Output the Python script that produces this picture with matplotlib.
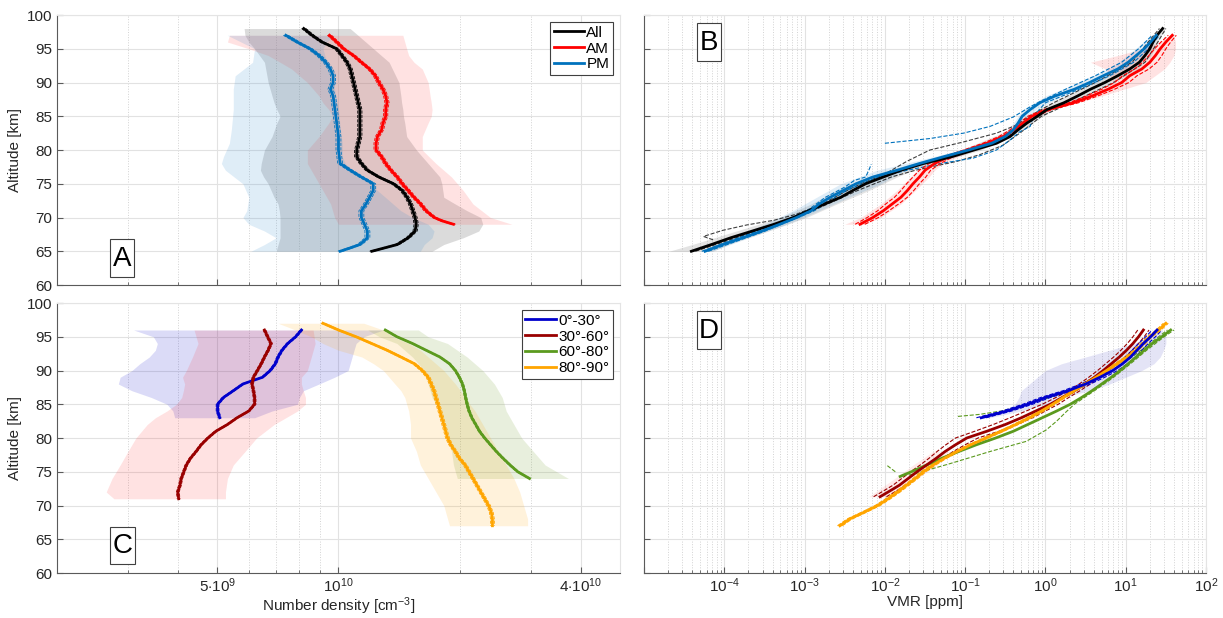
import numpy as np
import matplotlib
matplotlib.use('Agg')
import matplotlib.pyplot as plt
from matplotlib.patches import Rectangle
from matplotlib.ticker import FixedLocator, NullFormatter, LogLocator, NullLocator

plt.rcParams['font.family'] = ['Liberation Sans', 'DejaVu Sans']
plt.rcParams['mathtext.fontset'] = 'custom'
plt.rcParams['mathtext.rm'] = 'Liberation Sans'
plt.rcParams['mathtext.it'] = 'Liberation Sans:italic'
plt.rcParams['mathtext.bf'] = 'Liberation Sans:bold'

# ---------- panel A : number density, All / AM / PM (units 1e9 cm^-3)
alt_all = [98, 97, 96, 95, 94, 93, 92, 91, 90, 88, 86, 84, 82, 80, 79, 78, 77, 76, 75, 74, 73, 72, 71, 70, 69, 68, 67, 66, 65]
n_all = [8.2, 8.6, 9.1, 9.9, 10.2, 10.5, 10.7, 10.8, 10.9, 11.1, 11.3, 11.3, 11.3, 11.1, 11.1, 11.4, 11.8, 12.6, 13.7, 14.4, 14.8, 15.1, 15.3, 15.5, 15.6, 15.5, 14.9, 14.0, 12.1]
alt_all_band = [98, 97, 96, 95, 93, 90, 88, 87, 86, 85, 84, 82, 80, 78, 77, 76, 75, 73, 72, 71, 70, 69, 68, 67, 66, 65]
lo_all = [5.83, 5.86, 5.99, 6.19, 6.55, 6.69, 6.84, 6.92, 7.03, 7.16, 7.03, 6.84, 6.55, 6.43, 6.40, 6.52, 6.69, 6.92, 7.08, 7.13, 7.16, 7.16, 7.16, 7.16, 7.08, 7.00]
hi_all = [10.69, 11.18, 11.69, 12.22, 13.36, 14.13, 14.29, 14.35, 14.45, 14.5, 14.61, 14.77, 15.62, 16.70, 17.27, 17.86, 18.06, 18.26, 19.5, 20.87, 22.56, 22.82, 22.31, 20.41, 18.26, 17.08]

alt_am = [97, 96, 95, 94, 93, 92, 91, 90, 89, 88, 87, 86, 85, 84, 83, 82, 81, 80, 79, 78, 77, 76, 75, 74, 73, 72, 71, 70, 69.5, 69]
n_am = [9.5, 9.9, 10.3, 10.9, 11.4, 11.95, 12.35, 12.6, 12.9, 13.1, 13.2, 13.1, 13.1, 12.9, 12.8, 12.5, 12.4, 12.4, 12.8, 13.1, 13.5, 14.0, 14.4, 14.9, 15.4, 16.0, 16.5, 17.3, 18.1, 19.3]
alt_am_band = [97, 96, 95, 94, 93, 92, 90, 88, 87, 86, 85, 84, 82, 80, 78, 76, 74, 72, 70, 69]
lo_am = [5.36, 5.30, 5.99, 6.69, 7.16, 7.65, 8.37, 8.95, 9.15, 9.46, 9.67, 9.46, 8.95, 8.37, 8.37, 8.75, 9.15, 9.56, 9.78, 10.0]
hi_am = [14.45, 14.61, 14.77, 14.94, 15.4, 16.15, 16.70, 16.89, 17.0, 17.08, 17.0, 16.70, 16.15, 16.15, 17.46, 19.09, 20.41, 21.58, 23.85, 26.97]

alt_pm = [97, 96, 95, 94, 93, 92, 91, 90, 89, 88, 86, 84, 82, 80, 78, 77, 76, 75, 74, 73, 72, 71, 70, 69, 68, 67, 66, 65.5, 65]
n_pm = [7.4, 7.9, 8.5, 8.95, 9.3, 9.55, 9.7, 9.7, 9.55, 9.7, 9.8, 9.9, 10.0, 10.0, 10.1, 10.7, 11.4, 12.2, 12.2, 11.95, 11.7, 11.4, 11.4, 11.6, 11.8, 11.8, 11.3, 10.7, 10.1]
alt_pm_band = [97, 96, 95, 93, 91, 89, 86, 83, 81, 79, 78, 77, 75, 73, 71, 70, 69, 68, 67, 66, 65]
lo_pm = [5.30, 5.73, 6.19, 6.12, 5.54, 5.48, 5.48, 5.42, 5.36, 5.18, 5.12, 5.24, 5.79, 5.99, 5.92, 5.79, 5.99, 6.55, 7.00, 6.55, 6.06]
hi_pm = [9.78, 9.35, 9.15, 9.35, 9.67, 9.78, 10.0, 10.11, 10.22, 10.22, 10.4, 10.69, 11.95, 13.07, 14.29, 15.27, 16.70, 17.27, 17.08, 16.33, 15.97]
err_all, err_am, err_pm = 0.012, 0.012, 0.014   # relative spread of dashed lines

# ---------- panel C : number density by latitude (units 1e9 cm^-3)
alt_030 = [96, 95, 94, 93, 92, 91, 90, 89, 88.5, 88, 87, 86, 85, 84, 83]
n_030 = [8.09, 7.83, 7.48, 7.24, 7.08, 6.97, 6.77, 6.48, 6.12, 5.79, 5.48, 5.18, 5.01, 5.01, 5.07]
alt_030_band = [96, 95, 94, 93, 92, 91, 90, 89, 88, 87, 86, 85, 84, 83]
lo_030 = [3.10, 3.47, 3.55, 3.51, 3.39, 3.21, 3.07, 2.87, 2.84, 3.07, 3.43, 3.75, 3.88, 3.92]
hi_030 = [12.92, 11.56, 11.06, 10.93, 10.81, 10.69, 10.57, 9.78, 8.95, 8.18, 8.00, 7.91, 6.84, 6.19]

alt_3060 = [96, 95, 94, 93, 92, 91, 90, 89, 88, 87, 86, 85, 84, 83, 82, 81, 80, 79, 78, 77, 76, 75, 74, 73, 72, 71]
n_3060 = [6.55, 6.67, 6.80, 6.69, 6.55, 6.43, 6.29, 6.15, 6.10, 6.15, 6.19, 6.19, 5.99, 5.60, 5.30, 4.96, 4.74, 4.56, 4.43, 4.29, 4.19, 4.13, 4.07, 4.04, 3.99, 4.01]
alt_3060_band = [96, 94, 92, 90, 89, 88, 87, 86, 85, 84, 83, 82, 80, 78, 76, 74, 72, 71]
lo_3060 = [4.38, 4.48, 4.34, 4.19, 4.10, 4.15, 4.12, 4.08, 3.96, 3.75, 3.51, 3.35, 3.14, 3.00, 2.87, 2.74, 2.65, 2.77]
hi_3060 = [8.65, 8.75, 8.56, 8.37, 8.09, 8.09, 8.18, 8.28, 8.28, 7.91, 7.40, 6.92, 6.26, 5.86, 5.48, 5.30, 5.24, 5.24]

alt_6080 = [96, 95, 94, 93, 92, 91, 90, 89, 88, 87, 86, 85, 84, 83, 82, 81, 80, 79, 78, 77, 76, 75, 74.5, 74]
n_6080 = [13.07, 13.97, 15.27, 16.51, 17.86, 18.87, 19.51, 19.96, 20.32, 20.54, 20.69, 20.87, 21.10, 21.44, 21.92, 22.40, 23.07, 23.85, 24.67, 25.62, 26.67, 27.88, 28.83, 29.81]
alt_6080_band = [96, 95, 94, 92, 90, 88, 86, 84, 82, 80, 78, 76, 75, 74]
lo_6080 = [11.82, 12.64, 13.97, 15.27, 16.33, 16.70, 17.08, 17.86, 18.26, 18.66, 19.09, 19.30, 19.51, 19.73]
hi_6080 = [15.79, 16.70, 18.66, 20.87, 22.82, 24.39, 25.51, 26.09, 27.27, 28.51, 30.48, 32.60, 34.84, 37.25]

alt_8090 = [97, 96, 95, 94, 93, 92, 91, 90, 89, 88, 87, 86, 85, 84, 83, 82, 81, 80, 79, 78, 77, 76, 75, 74, 73, 72, 71, 70, 69, 68, 67]
n_8090 = [9.15, 10.0, 11.06, 12.09, 13.21, 14.29, 15.44, 16.15, 16.70, 16.99, 17.27, 17.46, 17.66, 17.86, 18.06, 18.26, 18.46, 18.66, 19.00, 19.51, 19.96, 20.64, 21.10, 21.58, 22.07, 22.56, 23.07, 23.59, 23.96, 24.12, 24.12]
alt_8090_band = [97, 96, 95, 94, 93, 92, 91, 90, 89, 88, 87, 86, 85, 84, 82, 80, 78, 76, 74, 72, 70, 68, 67]
lo_8090 = [7.08, 7.82, 8.56, 9.15, 10.0, 11.43, 12.22, 12.92, 13.36, 13.81, 14.29, 14.61, 14.77, 14.94, 15.10, 15.10, 15.62, 15.97, 16.70, 17.46, 18.26, 18.66, 18.87]
hi_8090 = [11.56, 12.92, 13.66, 14.94, 15.97, 16.70, 17.46, 18.26, 18.87, 19.51, 20.09, 20.64, 21.20, 21.82, 22.82, 23.85, 24.94, 26.09, 27.27, 28.19, 28.83, 29.49, 29.49]
err_030, err_3060, err_6080, err_8090 = 0.008, 0.008, 0.007, 0.011

# ---------- panel B : VMR (log10 ppm), All / AM / PM
alt_b_all = list(range(65, 99))
vmr_all = [-4.41, -4.16, -3.92, -3.65, -3.38, -3.14, -2.95, -2.75, -2.55, -2.40,
           -2.24, -2.02, -1.80, -1.52, -1.17, -0.89, -0.61, -0.44, -0.34, -0.23,
           -0.10, 0.02, 0.23, 0.40, 0.56, 0.74, 0.90, 1.05, 1.17, 1.24, 1.30, 1.34, 1.39, 1.46]
alt_b_pm = list(range(65, 98))
vmr_pm = [-4.24, -4.02, -3.77, -3.53, -3.31, -3.10, -2.92, -2.82, -2.68, -2.52,
          -2.36, -2.15, -1.85, -1.57, -1.27, -0.96, -0.67, -0.50, -0.40, -0.34,
          -0.29, -0.19, -0.07, 0.12, 0.36, 0.55, 0.72, 0.90, 1.03, 1.13, 1.23, 1.31, 1.38]
alt_b_am = list(range(69, 98))
vmr_am = [-2.31, -2.15, -2.02, -1.91, -1.80, -1.72, -1.65, -1.57, -1.50, -1.38,
          -1.21, -0.97, -0.73, -0.53, -0.39, -0.28, -0.17, 0.03, 0.35, 0.58,
          0.78, 0.95, 1.05, 1.20, 1.30, 1.37, 1.43, 1.50, 1.58]
spread_am = [0.06, 0.07, 0.07, 0.08, 0.08, 0.08, 0.08, 0.08, 0.07, 0.07, 0.06, 0.05, 0.05, 0.05, 0.05,
             0.05, 0.05, 0.05, 0.06, 0.07, 0.08, 0.09, 0.09, 0.09, 0.09, 0.08, 0.07, 0.06, 0.05]

alt_all_lo = [66.7, 67.2, 68.1, 68.9, 69.6, 70.5, 72, 74, 75, 76.3, 78.3, 80, 81.2, 82.5, 83.7, 85, 87, 90, 93, 96, 98]
vmr_all_lo = [-4.14, -4.26, -4.02, -3.72, -3.38, -3.10, -2.78, -2.47, -2.30, -2.02, -1.73, -1.44, -1.02, -0.61, -0.36, -0.20, 0.10, 0.62, 1.08, 1.28, 1.42]
alt_all_hi = [65, 68, 71, 74, 76, 77, 78.3, 79.3, 80.7, 82.5, 83.7, 85, 87, 90, 93, 96, 98]
vmr_all_hi = [-4.36, -3.60, -2.90, -2.34, -1.92, -1.62, -1.11, -0.82, -0.53, -0.32, -0.19, -0.05, 0.32, 0.85, 1.24, 1.40, 1.50]
alt_pm_lo = [65, 67, 69, 71, 73, 74.5, 75.5, 76.0, 77.0, 77.9, np.nan, 81.0, 81.7, 82.5, 83.5, 84.9, 86.4, 87.4, 89, 91, 93, 95, 97]
vmr_pm_lo = [-4.28, -3.82, -3.36, -2.97, -2.74, -2.50, -2.38, -2.24, -2.20, -2.17, np.nan, -2.0, -1.44, -1.02, -0.69, -0.40, -0.19, -0.03, 0.25, 0.62, 0.95, 1.16, 1.33]
alt_pm_hi = [65, 68, 71, 74, 76, 77, 78, 78.8, 80, 81.5, 82.7, 83.5, 85, 87, 89, 91, 93, 95, 97]
vmr_pm_hi = [-4.20, -3.49, -2.88, -2.48, -2.08, -1.72, -1.31, -0.90, -0.61, -0.44, -0.32, -0.19, -0.15, 0.00, 0.42, 0.80, 1.10, 1.28, 1.42]

alt_b_all_band = [65, 66, 68, 70, 72, 74, 76, 77, 78, 80, 83, 86, 88, 90, 92, 94, 96, 98]
lo_b_all = [-4.69, -4.40, -3.85, -3.30, -2.92, -2.60, -2.22, -1.95, -1.65, -1.05, -0.45, -0.10, 0.25, 0.60, 0.92, 1.15, 1.28, 1.42]
hi_b_all = [-4.15, -3.95, -3.45, -2.98, -2.60, -2.20, -1.85, -1.65, -1.40, -0.80, -0.30, 0.10, 0.50, 0.85, 1.15, 1.32, 1.40, 1.48]
alt_b_pm_band = [65, 67, 69, 71, 73, 75, 77, 78, 80, 82, 84, 86, 88, 90, 92, 94, 96, 97]
lo_b_pm = [-4.30, -3.90, -3.50, -3.15, -2.85, -2.55, -2.10, -1.75, -1.05, -0.55, -0.40, -0.28, 0.00, 0.42, 0.78, 1.02, 1.22, 1.33]
hi_b_pm = [-4.15, -3.70, -3.22, -2.82, -2.45, -2.05, -1.75, -1.45, -0.90, -0.47, -0.30, -0.12, 0.22, 0.65, 0.98, 1.20, 1.36, 1.42]
alt_b_am_band = [69, 70, 72, 74, 76, 77, 78, 80, 82, 84, 86, 88, 90, 92, 93, 94, 95, 96, 97]
lo_b_am = [-2.50, -2.30, -2.05, -1.85, -1.68, -1.60, -1.45, -1.05, -0.58, -0.32, -0.02, 0.50, 0.85, 0.75, 0.56, 0.90, 1.20, 1.42, 1.55]
hi_b_am = [-2.25, -2.05, -1.80, -1.62, -1.45, -1.38, -1.28, -0.90, -0.48, -0.24, 0.08, 0.70, 1.25, 1.48, 1.55, 1.60, 1.62, 1.62, 1.60]

# ---------- panel D : VMR (log10 ppm) by latitude
alt_d_030 = [83, 84, 85, 86, 87, 88, 89, 90, 91, 92, 93, 94, 95, 96]
vmr_030 = [-0.80, -0.48, -0.22, 0.00, 0.28, 0.50, 0.68, 0.84, 0.96, 1.06, 1.14, 1.22, 1.31, 1.39]
lo_d_030 = [-0.85, -0.52, -0.38, -0.33, -0.30, -0.20, -0.10, 0.00, 0.20, 0.50, 0.80, 1.10, 1.30, 1.40]
hi_d_030 = [-0.70, -0.30, 0.00, 0.20, 0.55, 0.80, 1.00, 1.20, 1.35, 1.43, 1.47, 1.50, 1.50, 1.45]
alt_d_3060 = [71.3, 72, 73, 74, 75, 76, 77, 78, 79, 80, 81, 82, 83, 84, 85, 86, 87, 88, 89, 90, 91, 92, 93, 94, 95, 96]
vmr_3060 = [-2.06, -1.96, -1.82, -1.71, -1.60, -1.48, -1.36, -1.25, -1.12, -0.98, -0.73, -0.50, -0.30,
            -0.12, 0.06, 0.21, 0.36, 0.49, 0.61, 0.72, 0.82, 0.92, 1.01, 1.09, 1.16, 1.22]
spread_3060 = [0.08, 0.08, 0.08, 0.08, 0.08, 0.08, 0.09, 0.10, 0.12, 0.14, 0.15, 0.15, 0.14,
               0.12, 0.10, 0.08, 0.07, 0.07, 0.07, 0.07, 0.07, 0.07, 0.07, 0.07, 0.07, 0.07]
alt_d_3060_band = [71.3, 72, 74, 76, 78]
lo_d_3060 = [-2.20, -2.12, -1.88, -1.65, -1.40]
hi_d_3060 = [-1.95, -1.85, -1.60, -1.35, -1.15]
alt_d_6080 = [74.3, 75, 76, 77, 78, 79, 80, 81, 82, 83, 84, 85, 86, 87, 88, 89, 90, 91, 92, 93, 94, 95, 96]
vmr_6080 = [-1.81, -1.67, -1.48, -1.29, -1.08, -0.86, -0.62, -0.40, -0.22, -0.04, 0.14, 0.31, 0.45,
            0.58, 0.70, 0.82, 0.93, 1.03, 1.13, 1.23, 1.33, 1.45, 1.56]
alt_6080_lo = [75.0, 76.0, np.nan, 83.2, 83.5, 84, 85, 86, 87, 88, 90, 92, 94, 96]
vmr_6080_lo = [-1.87, -1.98, np.nan, -1.09, -0.82, -0.55, -0.22, 0.05, 0.30, 0.52, 0.83, 1.08, 1.30, 1.52]
alt_6080_hi = [74.5, 75.0, 76.2, 78.0, 79.5, 81.2, 82.5, 83.9, 85, 87, 89, 91, 93, 95, 96]
vmr_6080_hi = [-1.70, -1.54, -1.19, -0.69, -0.24, 0.01, 0.14, 0.26, 0.36, 0.61, 0.85, 1.06, 1.26, 1.48, 1.60]
alt_d_8090 = list(range(67, 98))
vmr_8090 = [-2.56, -2.44, -2.26, -2.09, -1.96, -1.84, -1.73, -1.62, -1.52, -1.40, -1.26, -1.10, -0.93,
            -0.74, -0.55, -0.37, -0.20, -0.05, 0.09, 0.22, 0.36, 0.49, 0.63, 0.76, 0.89, 1.02, 1.13,
            1.22, 1.30, 1.41, 1.50]
spread_030, spread_8090 = 0.06, 0.03

c_all, c_am, c_pm = 'black', '#ff0000', '#0072bd'
c030, c3060, c6080, c8090 = '#0000cc', '#990000', '#5b9a1e', '#ffa500'


def style(ax, top, left):
    ax.set_ylim(60, 100)
    ax.set_yticks(range(60, 101, 5))
    ax.yaxis.set_minor_locator(NullLocator())
    ax.grid(True, which='major', color='#e2e2e2', lw=0.8)
    ax.grid(True, which='minor', axis='x', color='#d2d2d2', lw=0.7, ls=':')
    ax.set_axisbelow(True)
    for s in ['top', 'right']:
        ax.spines[s].set_color('#e4e4e4')
    for s in ['left', 'bottom']:
        ax.spines[s].set_color('#5a5a5a')
    ax.tick_params(which='both', direction='in', colors='#5a5a5a', labelcolor='#262626', labelsize=11)
    ax.tick_params(which='major', length=4)
    ax.tick_params(which='minor', length=2)
    ax.tick_params(axis='x', pad=2.5)
    if top:
        ax.tick_params(labelbottom=False)
    if left:
        ax.set_ylabel('Altitude [km]', fontsize=11, color='#262626', labelpad=3)
    else:
        ax.tick_params(labelleft=False)


def density_axis(ax):
    ax.set_xscale('log')
    ax.set_xlim(2e9, 5e10)
    ax.set_xticks([5e9, 1e10, 4e10], [r'$5{\cdot}10^{9}$', r'$10^{10}$', r'$4{\cdot}10^{10}$'])
    ax.xaxis.set_minor_locator(FixedLocator([2e9, 3e9, 4e9, 6e9, 7e9, 8e9, 9e9, 2e10, 3e10]))
    ax.xaxis.set_minor_formatter(NullFormatter())


def vmr_axis(ax):
    ax.set_xscale('log')
    ax.set_xlim(1e-5, 1e2)
    ax.set_xticks(10.0 ** np.arange(-5, 3),
                  [''] + [r'$10^{%d}$' % k for k in range(-4, 3)])
    ax.xaxis.set_minor_locator(LogLocator(base=10, subs=np.arange(2, 10), numticks=20))
    ax.xaxis.set_minor_formatter(NullFormatter())


def tag(ax, s, x0, y0):
    # panel letter in a narrow framed box (axes coordinates)
    ax.add_patch(Rectangle((x0, y0), 0.043, 0.14, transform=ax.transAxes, fc='white',
                           ec='#404040', lw=0.8, zorder=9))
    ax.text(x0 + 0.0215, y0 + 0.068, s, transform=ax.transAxes, fontsize=20, ha='center',
            va='center', zorder=10)


def dens(ax, alt, n, alt_b, lo, hi, err, color, band_color, alpha, label):
    n = np.array(n) * 1e9
    ax.fill_betweenx(alt_b, np.array(lo) * 1e9, np.array(hi) * 1e9, color=band_color, alpha=alpha, lw=0)
    ax.plot(n * (1 - err), alt, '--', color=color, lw=0.6)
    ax.plot(n * (1 + err), alt, '--', color=color, lw=0.6)
    return ax.plot(n, alt, color=color, lw=2.0, label=label)[0]


def legend(ax, handles):
    lg = ax.legend(handles=handles, loc='upper right', fontsize=11, fancybox=False, edgecolor='#404040',
                   framealpha=1, borderpad=0.25, handlelength=2.0, handletextpad=0.15,
                   labelspacing=0.12, borderaxespad=0.45)
    lg.get_frame().set_linewidth(0.8)


fig = plt.figure(figsize=(12.23, 6.18), dpi=100)
axA = fig.add_axes([0.0466, 0.5388, 0.4603, 0.4369])
axB = fig.add_axes([0.5266, 0.5388, 0.4595, 0.4369])
axC = fig.add_axes([0.0466, 0.0728, 0.4603, 0.4369])
axD = fig.add_axes([0.5266, 0.0728, 0.4595, 0.4369])

# panel A
hA = []
hA.append(dens(axA, alt_all, n_all, alt_all_band, lo_all, hi_all, err_all, c_all, '#808080', 0.28, 'All'))
hA.append(dens(axA, alt_am, n_am, alt_am_band, lo_am, hi_am, err_am, c_am, '#ff5050', 0.16, 'AM'))
hA.append(dens(axA, alt_pm, n_pm, alt_pm_band, lo_pm, hi_pm, err_pm, c_pm, '#3a8fd0', 0.16, 'PM'))
density_axis(axA)
style(axA, True, True)
legend(axA, hA)
tag(axA, 'A', 0.094, 0.030)

# panel C
hC = []
hC.append(dens(axC, alt_030, n_030, alt_030_band, lo_030, hi_030, err_030, c030, '#0000cc', 0.14, '0°-30°'))
hC.append(dens(axC, alt_3060, n_3060, alt_3060_band, lo_3060, hi_3060, err_3060, c3060, '#ff2020', 0.13, '30°-60°'))
hC.append(dens(axC, alt_6080, n_6080, alt_6080_band, lo_6080, hi_6080, err_6080, c6080, '#6a9a20', 0.15, '60°-80°'))
hC.append(dens(axC, alt_8090, n_8090, alt_8090_band, lo_8090, hi_8090, err_8090, c8090, '#ffa500', 0.14, '80°-90°'))
density_axis(axC)
style(axC, False, True)
axC.set_xlabel('Number density [cm$^{-3}$]', fontsize=11, color='#262626', labelpad=0)
legend(axC, hC)
tag(axC, 'C', 0.095, 0.032)

# panel B
p = lambda v: 10.0 ** np.array(v, dtype=float)
axB.fill_betweenx(alt_b_all_band, p(lo_b_all), p(hi_b_all), color='#808080', alpha=0.22, lw=0)
axB.fill_betweenx(alt_b_pm_band, p(lo_b_pm), p(hi_b_pm), color='#3a8fd0', alpha=0.16, lw=0)
axB.fill_betweenx(alt_b_am_band, p(lo_b_am), p(hi_b_am), color='#ff5050', alpha=0.16, lw=0)
axB.plot(p(vmr_all_lo), alt_all_lo, '--', color=c_all, lw=0.8, alpha=0.75)
axB.plot(p(vmr_all_hi), alt_all_hi, '--', color=c_all, lw=0.8, alpha=0.75)
axB.plot(p(vmr_pm_lo), alt_pm_lo, '--', color=c_pm, lw=0.8)
axB.plot(p(vmr_pm_hi), alt_pm_hi, '--', color=c_pm, lw=0.8)
axB.plot(p(np.array(vmr_am) - np.array(spread_am)), alt_b_am, '--', color=c_am, lw=0.8)
axB.plot(p(np.array(vmr_am) + np.array(spread_am)), alt_b_am, '--', color=c_am, lw=0.8)
axB.plot(p(vmr_am), alt_b_am, color=c_am, lw=2.0)
axB.plot(p(vmr_all), alt_b_all, color=c_all, lw=2.0)
axB.plot(p(vmr_pm), alt_b_pm, color=c_pm, lw=2.0)
vmr_axis(axB)
style(axB, True, False)
tag(axB, 'B', 0.094, 0.830)

# panel D
axD.fill_betweenx(alt_d_030, p(lo_d_030), p(hi_d_030), color='#3030c0', alpha=0.13, lw=0)
axD.fill_betweenx(alt_d_3060_band, p(lo_d_3060), p(hi_d_3060), color='#ff4040', alpha=0.10, lw=0)
axD.plot(p(vmr_6080_lo), alt_6080_lo, '--', color=c6080, lw=0.8)
axD.plot(p(vmr_6080_hi), alt_6080_hi, '--', color=c6080, lw=0.8)
for v, alt, s, c in [(vmr_3060, alt_d_3060, spread_3060, c3060), (vmr_030, alt_d_030, spread_030, c030),
                     (vmr_8090, alt_d_8090, spread_8090, c8090)]:
    axD.plot(p(np.array(v) - np.array(s)), alt, '--', color=c, lw=0.8)
    axD.plot(p(np.array(v) + np.array(s)), alt, '--', color=c, lw=0.8)
axD.plot(p(vmr_6080), alt_d_6080, color=c6080, lw=2.0)
axD.plot(p(vmr_3060), alt_d_3060, color=c3060, lw=2.0)
axD.plot(p(vmr_8090), alt_d_8090, color=c8090, lw=2.0)
axD.plot(p(vmr_030), alt_d_030, color=c030, lw=2.0)
vmr_axis(axD)
style(axD, False, False)
axD.set_xlabel('VMR [ppm]', fontsize=11, color='#262626', labelpad=0)
tag(axD, 'D', 0.094, 0.829)

fig.savefig('out.png', dpi=100)
